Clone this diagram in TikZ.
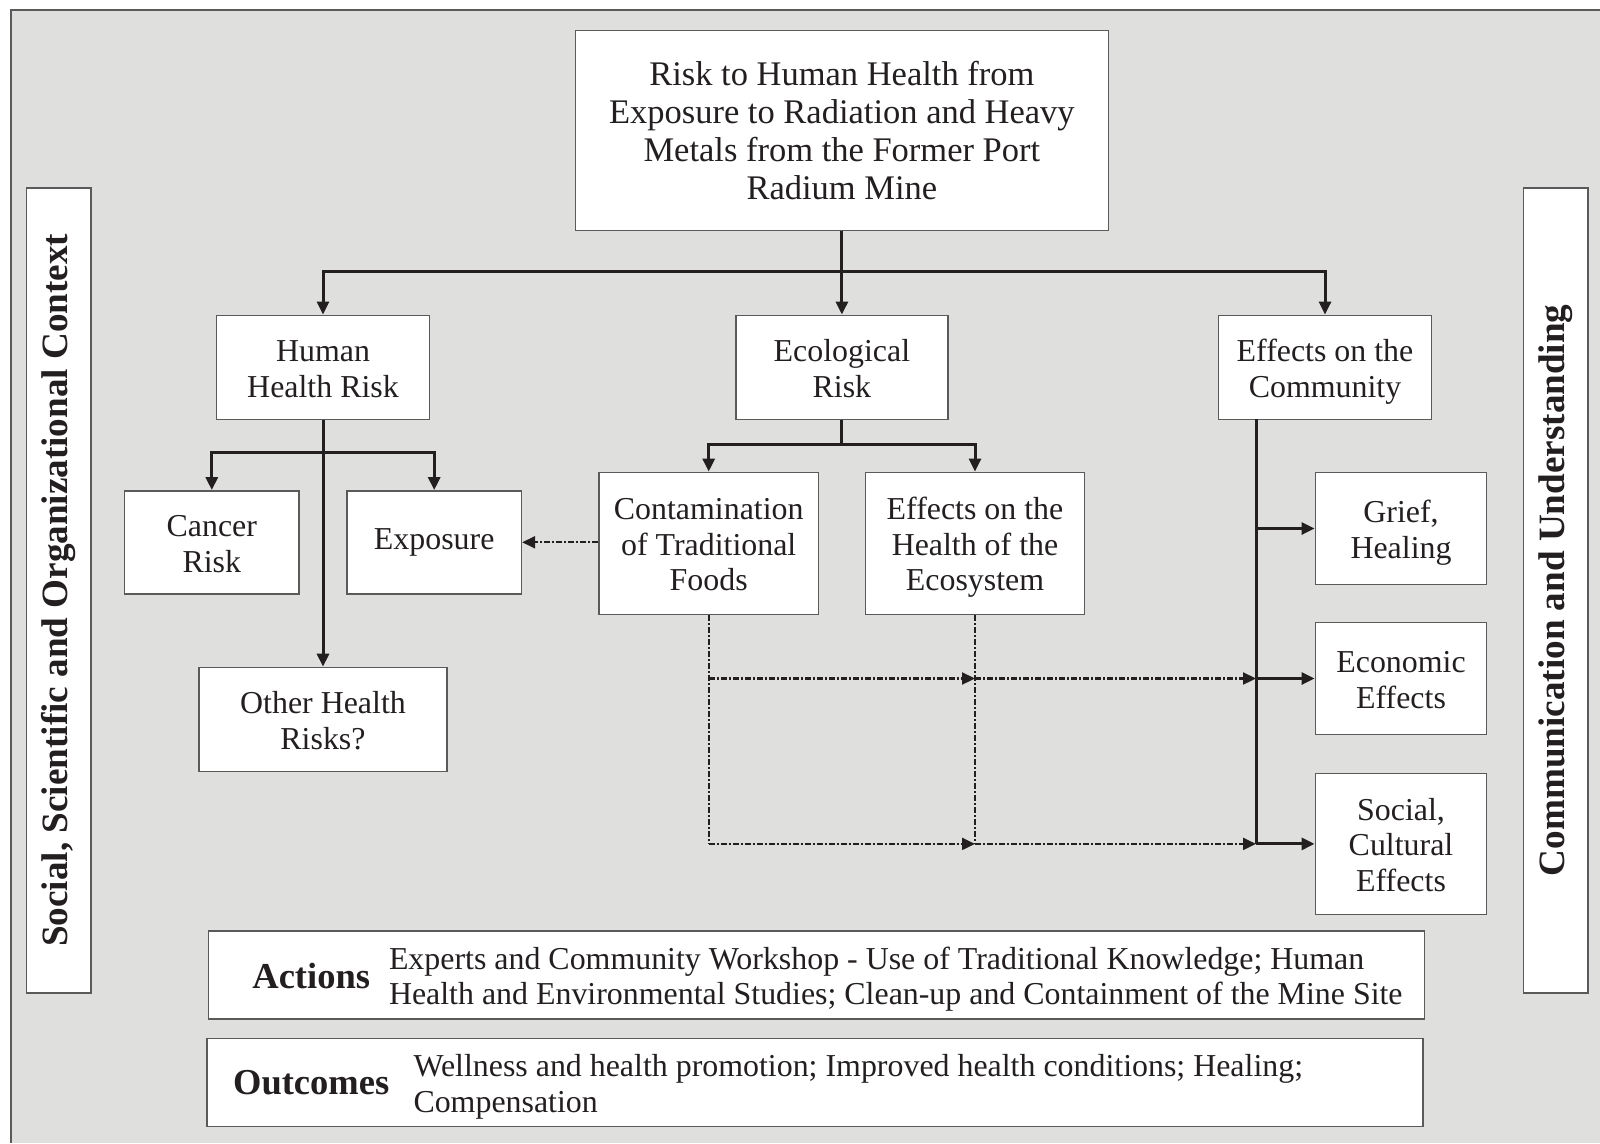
\documentclass[tikz,border=0pt]{standalone}
\usepackage{fontspec}
\setmainfont{Liberation Serif}
\usetikzlibrary{arrows.meta}
\definecolor{panel}{HTML}{DFDFDD}
\definecolor{ink}{HTML}{231F20}
\definecolor{edge}{HTML}{5A5A5A}
% fixed-height line strut so every line sits on the same grid
\newcommand\lnstrut{\rule[-8pt]{0pt}{40pt}}
\newcommand\gridlines{\lineskiplimit -100pt\relax}
\begin{document}
\begin{tikzpicture}[x=1pt,y=-1pt,
  box/.style={draw=edge, line width=1.5pt, fill=white, text=ink, align=center,
    inner sep=0pt, font=\fontsize{31.9}{35.5}\selectfont\gridlines},
  topbox/.style={draw=edge, line width=1.5pt, fill=white, text=ink, align=center,
    inner sep=0pt, font=\fontsize{34.5}{38}\selectfont},
  sidebox/.style={draw=edge, line width=1.5pt, fill=white, text=ink, inner sep=0pt,
    minimum width=805pt, minimum height=64.3pt, rotate=90,
    font=\fontsize{37.15}{40}\selectfont\bfseries},
  wide/.style={draw=edge, line width=1.5pt, fill=white, inner sep=0pt,
    minimum width=1216pt, minimum height=88pt},
  lbl/.style={text=ink, inner sep=0pt, font=\fontsize{36.5}{40}\selectfont\bfseries},
  body/.style={text=ink, inner sep=0pt, align=left, anchor=west,
    font=\fontsize{31.9}{35.5}\selectfont\gridlines},
  conn/.style={draw=ink, line width=3pt},
  dotline/.style={draw=ink, line width=2.2pt, dash pattern=on 6pt off 2pt on 2pt off 2pt},
  arr/.style={-{Triangle[length=13pt,width=12pt]}},
]
\useasboundingbox (0,0) rectangle (1600,1143);
% panel
\fill[panel] (11,10) rectangle (1600,1143);
\draw[edge, line width=1.5pt] (11,1143) -- (11,10) -- (1600,10);

% boxes
\node[topbox, minimum width=532.7pt, minimum height=200pt] (top) at (841.9,130.6)
  {Risk to Human Health from\\Exposure to Radiation and Heavy\\Metals from the Former Port\\Radium Mine};
\node[box, minimum width=213.3pt, minimum height=104pt] (hhr) at (323,367.3)
  {\lnstrut Human\\\lnstrut Health Risk};
\node[box, minimum width=212.3pt, minimum height=104pt] (eco) at (841.9,367.3)
  {\lnstrut Ecological\\\lnstrut Risk};
\node[box, minimum width=213.2pt, minimum height=104pt] (comm) at (1325,367.3)
  {\lnstrut Effects on the\\\lnstrut Community};
\node[box, minimum width=174.5pt, minimum height=103pt] (cancer) at (211.8,542.3)
  {\lnstrut Cancer\\\lnstrut Risk};
\node[box, minimum width=174.4pt, minimum height=103pt] (expo) at (434.2,542.3)
  {Exposure};
\node[box, minimum width=219.4pt, minimum height=142pt] (contam) at (708.7,543.3)
  {\lnstrut Contamination\\\lnstrut of Traditional\\\lnstrut Foods};
\node[box, minimum width=219.4pt, minimum height=142pt] (ecoh) at (975,543.3)
  {\lnstrut Effects on the\\\lnstrut Health of the\\\lnstrut Ecosystem};
\node[box, minimum width=248pt, minimum height=104pt] (other) at (323,719.4)
  {\lnstrut Other Health\\\lnstrut Risks?};
\node[box, minimum width=171.4pt, minimum height=112.3pt] (grief) at (1401,528.5)
  {\lnstrut Grief,\\\lnstrut Healing};
\node[box, minimum width=171.4pt, minimum height=112.3pt] (econ) at (1401,678.5)
  {\lnstrut Economic\\\lnstrut Effects};
\node[box, minimum width=171.4pt, minimum height=140.8pt] (social) at (1401,843.9)
  {\lnstrut Social,\\\lnstrut Cultural\\\lnstrut Effects};

% side panels
\node[sidebox] (ctx) at (58.6,590.3) {Social, Scientific and Organizational Context};
\node[sidebox] (comu) at (1555.6,590.3) {Communication and Understanding};

% actions and outcomes
\node[wide] (act) at (816.3,975) {};
\node[lbl] (actlbl) at (311.2,976.5) {Actions};
\node[body] (acttxt) at (388.8,975)
  {\lnstrut Experts and Community Workshop - Use of Traditional Knowledge; Human\\\lnstrut Health and Environmental Studies; Clean-up and Containment of the Mine Site};
\node[wide] (out) at (814.8,1082.6) {};
\node[lbl] (outlbl) at (311.2,1082.6) {Outcomes};
\node[body] (outtxt) at (413.3,1082.5)
  {\lnstrut Wellness and health promotion; Improved health conditions; Healing;\\\lnstrut Compensation};

% junctions
\coordinate (jtop) at (841.9,271.4);
\coordinate (jhhr) at (323,452);
\coordinate (jeco) at (841.9,444.9);
\coordinate (bus) at (1256,419.4);

% main branches
\draw[conn,arr] (top.south) -- (eco.north);
\draw[conn,arr] (jtop) -| (hhr.north);
\draw[conn,arr] (jtop) -| (comm.north);

% human health branches
\draw[conn,arr] (hhr.south) -- (other.north);
\draw[conn,arr] (jhhr) -| (cancer.north);
\draw[conn,arr] (jhhr) -| (expo.north);

% ecological branches
\draw[conn] (eco.south) -- (jeco);
\draw[conn,arr] (jeco) -| (contam.north);
\draw[conn,arr] (jeco) -| (ecoh.north);

% community bus
\draw[conn] (bus) -- (bus |- social.west);
\draw[conn,arr] (bus |- grief.west) -- (grief.west);
\draw[conn,arr] (bus |- econ.west) -- (econ.west);
\draw[conn,arr] (bus |- social.west) -- (social.west);

% indirect links
\draw[dotline,arr] (contam.west |- expo.east) -- (expo.east);
\draw[dotline] (contam.south) -- (contam.south |- social.west);
\draw[dotline] (ecoh.south) -- (ecoh.south |- social.west);
\draw[dotline,arr] (contam.south |- econ.west) -- (ecoh.south |- econ.west);
\draw[dotline,arr] (contam.south |- social.west) -- (ecoh.south |- social.west);
\draw[dotline,arr] (ecoh.south |- econ.west) -- (bus |- econ.west);
\draw[dotline,arr] (ecoh.south |- social.west) -- (bus |- social.west);
\end{tikzpicture}
\end{document}
